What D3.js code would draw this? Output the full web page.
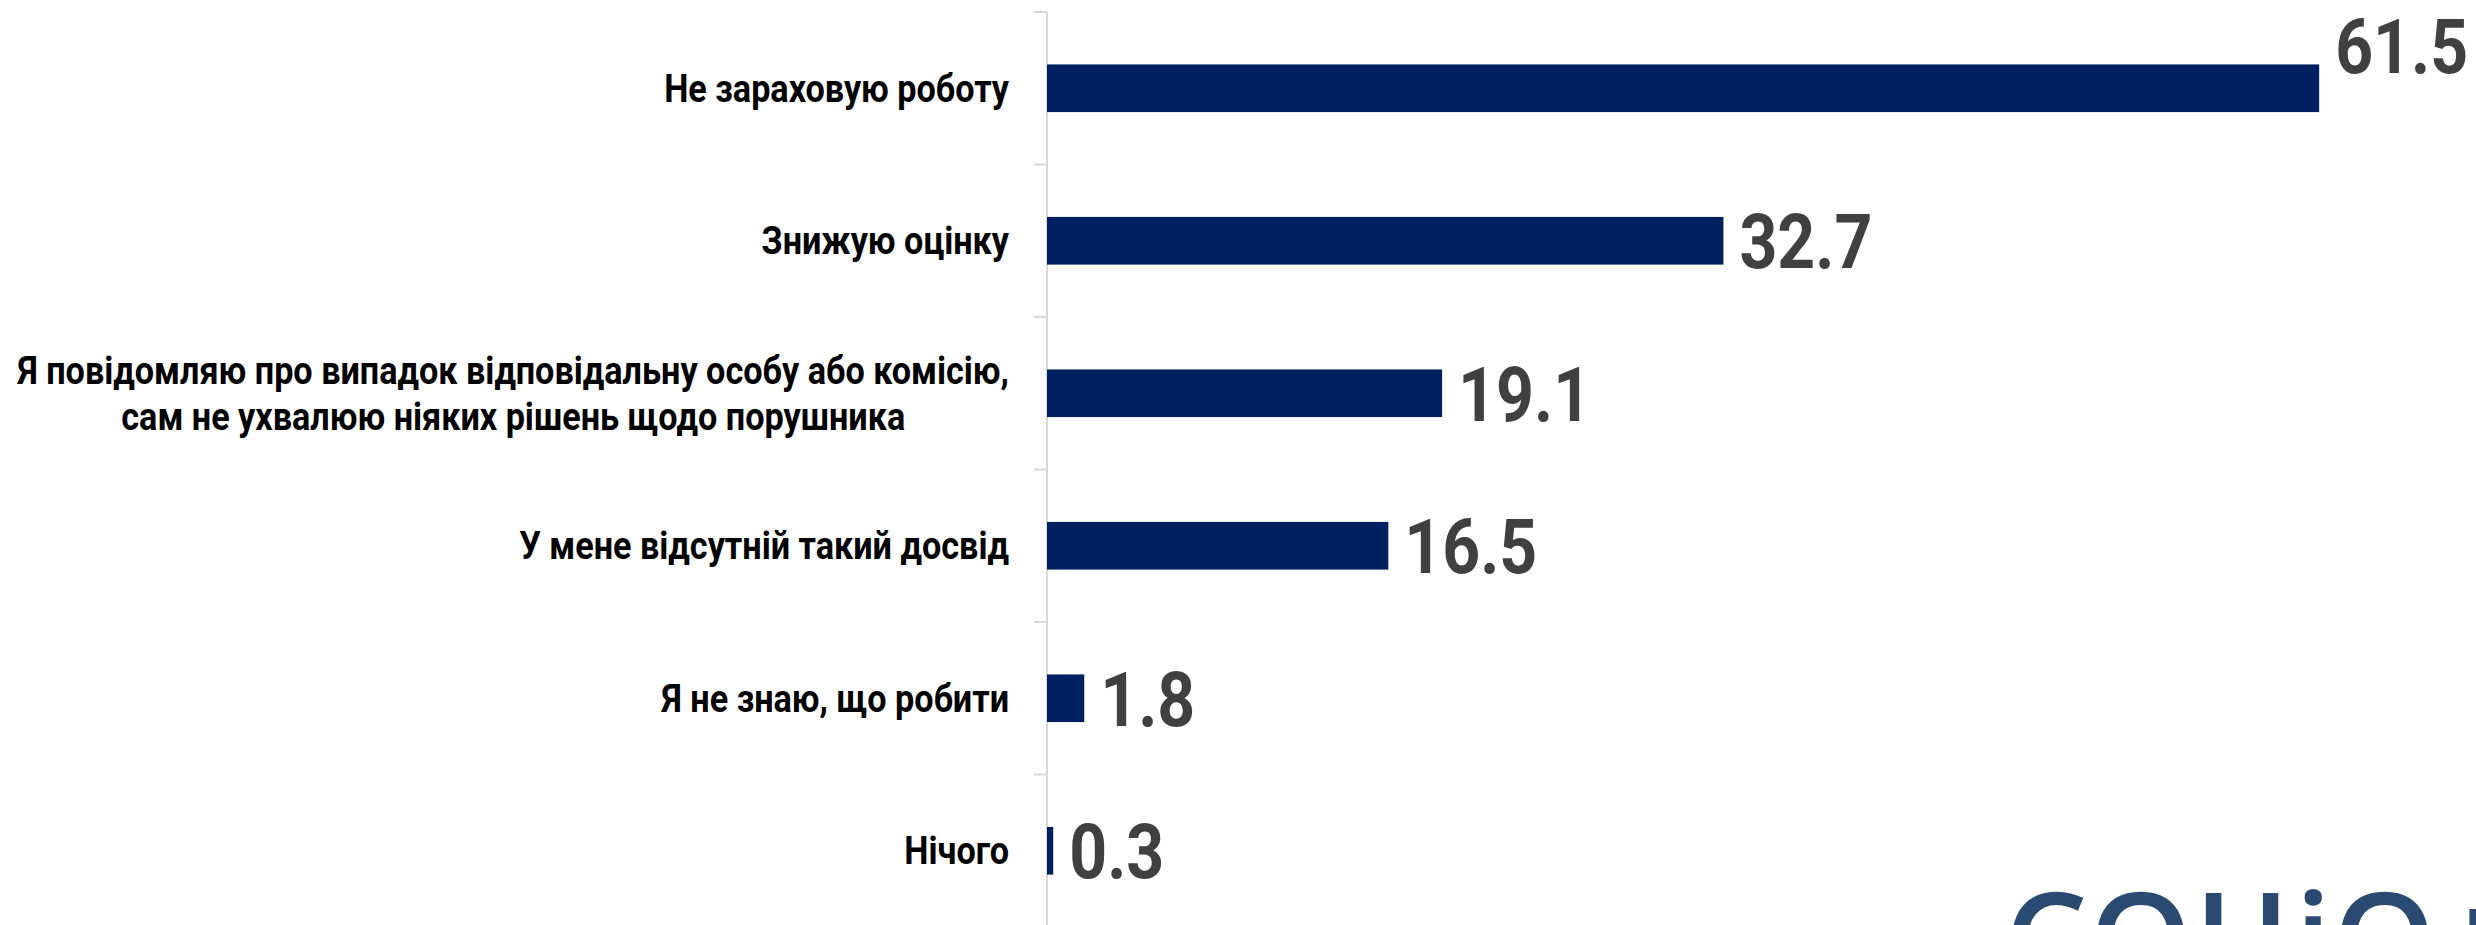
<!DOCTYPE html>
<html>
<head>
<meta charset="utf-8">
<script src="https://cdn.jsdelivr.net/npm/d3@7"></script>
<style>
  html, body { margin: 0; padding: 0; background: #fff; overflow: hidden; }
  svg { display: block; }
</style>
</head>
<body>
<svg id="chart" width="2476" height="925"></svg>
<script>
// categories, top to bottom (line breaks as in the original)
var categories = [
  ["Не зараховую роботу"],
  ["Знижую оцінку"],
  ["Я повідомляю про випадок відповідальну особу або комісію,", "сам не ухвалюю ніяких рішень щодо порушника"],
  ["У мене відсутній такий досвід"],
  ["Я не знаю, що робити"],
  ["Нічого"]
];
var values = [61.5, 32.7, 19.1, 16.5, 1.8, 0.3];
var valueLabels = ["61.5", "32.7", "19.1", "16.5", "1.8", "0.3"];

var W = 2476, H = 925;
var svg = d3.select("#chart");
var labelFont = "Roboto, 'Noto Sans', sans-serif";
// the original face is narrower than Roboto, so text is squeezed a little
var catSqueeze = 0.9, valSqueeze = 0.87;

var idx = d3.range(values.length);

var y = d3.scaleBand()
    .domain(idx)
    .range([12, 927])
    .paddingInner(0.6875)
    .paddingOuter(0.34375);

var x = d3.scaleLinear()
    .domain([0, 70])
    .range([1047, 2495]);

// category axis: light grey line with ticks between bands
var step = y.step();
var bounds = d3.range(values.length + 1).map(function(i) { return 12 + i * step; });

svg.append("line")
    .attr("x1", x(0)).attr("x2", x(0))
    .attr("y1", bounds[0]).attr("y2", H)
    .style("stroke", "#d9d9d9")
    .style("stroke-width", 2);

svg.selectAll("line.tick")
    .data(bounds)
  .enter().append("line")
    .attr("class", "tick")
    .attr("x1", x(0) - 13).attr("x2", x(0))
    .attr("y1", function(d) { return d; })
    .attr("y2", function(d) { return d; })
    .style("stroke", "#d9d9d9")
    .style("stroke-width", 2);

// bars
svg.selectAll("rect.bar")
    .data(values)
  .enter().append("rect")
    .attr("class", "bar")
    .attr("x", x(0))
    .attr("y", function(d, i) { return y(i); })
    .attr("width", function(d) { return x(d) - x(0); })
    .attr("height", y.bandwidth())
    .style("fill", "#002060");

// category labels (multi-line blocks are centred, block right-aligned)
var labelRight = x(0) - 38;
var lineH = 46;
var g = svg.selectAll("g.cat")
    .data(categories)
  .enter().append("g")
    .attr("class", "cat")
    .attr("transform", function(d, i) {
      return "translate(" + labelRight + "," + (y(i) + y.bandwidth() / 2) + ") scale(" + catSqueeze + ",1)";
    });

g.each(function(lines) {
  var grp = d3.select(this);
  var texts = grp.selectAll("text")
      .data(lines)
    .enter().append("text")
      .attr("y", function(d, j) { return (j - (lines.length - 1) / 2) * lineH; })
      .attr("dy", "0.36em")
      .style("font-family", labelFont)
      .style("font-weight", "bold")
      .style("font-size", "38px")
      .style("fill", "#000")
      .text(function(d) { return d; });
  var maxW = d3.max(texts.nodes(), function(n) { return n.getComputedTextLength(); });
  texts.attr("x", -maxW / 2).attr("text-anchor", "middle");
});

// value labels
svg.selectAll("text.val")
    .data(values)
  .enter().append("text")
    .attr("class", "val")
    .attr("dy", "0.36em")
    .style("font-family", labelFont)
    .style("font-weight", "bold")
    .style("font-size", "76px")
    .style("fill", "#404040")
    .text(function(d, i) { return valueLabels[i]; })
    .each(function(d, i) {
      var lx = x(d) + 16;
      var ly = y(i) + y.bandwidth() / 2;
      var w = this.getComputedTextLength() * valSqueeze;
      // label that would run off the right edge is lifted above the bar
      if (lx + w > W - 20) {
        ly -= y.bandwidth() - 5;
        lx = Math.min(lx, W - 6 - w);
      }
      d3.select(this).attr("transform", "translate(" + lx + "," + ly + ") scale(" + valSqueeze + ",1)");
    });

// logo, cut off by the bottom edge
svg.append("text")
    .attr("x", 2004)
    .attr("y", 988)
    .style("font-family", "'Open Sans', sans-serif")
    .style("font-weight", "600")
    .style("font-size", "132px")
    .style("letter-spacing", "1px")
    .style("fill", "#2a4a72")
    .text("СОЦіО+");
</script>
</body>
</html>
